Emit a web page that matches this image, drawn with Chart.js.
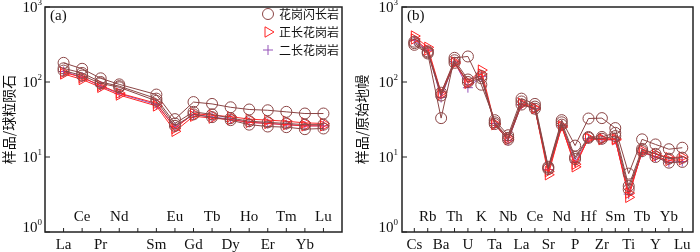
<!DOCTYPE html>
<html>
<head>
<meta charset="utf-8">
<script src="https://cdn.jsdelivr.net/npm/chart.js@4"></script>
<style>
  body { margin: 0; background: #fff; }
  #wrap { position: relative; width: 700px; height: 252px; }
  canvas { position: absolute; top: 0; }
</style>
</head>
<body>
<div id="wrap">
  <canvas id="reeChart" width="350" height="252" style="left:0"></canvas>
  <canvas id="spiderChart" width="350" height="252" style="left:350px"></canvas>
</div>
<script>
// (a) chondrite-normalised REE, Pm slot has no label and no data
const reeLabels = ["La", "Ce", "Pr", "Nd", "", "Sm", "Eu", "Gd", "Tb", "Dy", "Ho", "Er", "Tm", "Yb", "Lu"];
const granodioriteREE1 = [180, 150, 112, 93, null, 68, 32, 54, 51, 46, 43, 42, 40, 38, 38];
const granodioriteREE2 = [152, 132, 100, 88, null, 60, 28, 40, 37, 33, 30, 29, 28, 27, 27];
const granodioriteREE3 = [142, 122, 96, 85, null, 56, 26, 37, 34, 31, 27, 25.5, 25, 23.5, 24];
const syenograniteREE1 = [135, 115, 90, 71, null, 52, 24, 38, 36, 34.5, 32, 31, 30, 28.5, 28];
const syenograniteREE2 = [128, 108, 85, 67, null, 48, 22, 35, 33, 31.5, 29, 28, 27, 26, 26];
const monzograniteREE1 = [138, 116, 88, 70, null, 50, 25, 37, 34, 32, 29, 28, 27, 26, 26];

// (b) primitive-mantle-normalised trace elements
const spiderLabels = ["Cs", "Rb", "Ba", "Th", "U", "K", "Ta", "Nb", "La", "Ce", "Sr", "Nd", "P", "Hf", "Zr", "Sm", "Ti", "Tb", "Y", "Yb", "Lu"];
const granodioriteSpider1 = [313, 240, 33, 210, 219, 92, 31, 19.5, 60, 51, 7.4, 31, 14.2, 32.6, 33, 24.3, 6, 17.2, 14.7, 12.7, 13.3];
const granodioriteSpider2 = [345, 256, 72, 195, 108, 120, 29, 18, 55, 47, 7.2, 29, 10, 18.5, 18.5, 21, 4.1, 12.8, 11, 9.5, 9.8];
const granodioriteSpider3 = [330, 248, 66, 180, 100, 112, 27.5, 17, 50, 44, 6.9, 27, 9.4, 18, 17.5, 19, 3.7, 12, 10, 8.4, 8.6];
const syenograniteSpider1 = [410, 290, 72, 185, 100, 144, 28, 18, 52, 45, 5.8, 26, 7.4, 18, 17.5, 17.5, 2.9, 12.3, 11, 9.8, 10];
const syenograniteSpider2 = [375, 268, 68, 178, 96, 128, 27, 17, 50, 44, 6.4, 25, 8, 17.5, 17, 17, 3.3, 11.5, 10.2, 9, 9.2];
const monzograniteSpider1 = [360, 262, 62, 185, 84, 118, 28, 16.5, 50, 44, 6.8, 26, 8.5, 17.5, 17, 17, 3.2, 11.5, 10, 8.5, 8.7];

const yTicks = [1, 10, 100, 1000];
const rockNames = ["花岗闪长岩", "正长花岗岩", "二长花岗岩"];

const rockStyles = [
  { color: "#8b4545", pointStyle: "circle", pointRadius: 5.5, pointRotation: 0 },
  { color: "#ff2424", pointStyle: "triangle", pointRadius: 6, pointRotation: 90 },
  { color: "#9552b8", pointStyle: "cross", pointRadius: 5, pointRotation: 0 }
];

function series(values, rock) {
  const s = rockStyles[rock];
  return {
    label: rockNames[rock],
    data: values.map((v, i) => ({ x: i, y: v })),
    borderColor: s.color,
    borderWidth: 1,
    pointStyle: s.pointStyle,
    pointRadius: s.pointRadius,
    pointRotation: s.pointRotation,
    pointBorderColor: s.color,
    pointBorderWidth: 1,
    pointBackgroundColor: "rgba(0,0,0,0)",
    spanGaps: true,
    tension: 0
  };
}

function drawMarker(ctx, rock, x, y) {
  const s = rockStyles[rock];
  const r = s.pointRadius;
  ctx.strokeStyle = s.color;
  ctx.lineWidth = 1;
  ctx.beginPath();
  if (s.pointStyle === "circle") {
    ctx.arc(x, y, r, 0, Math.PI * 2);
  } else if (s.pointStyle === "triangle") {
    ctx.moveTo(x + r, y);
    ctx.lineTo(x - r / 2, y - r * 0.866);
    ctx.lineTo(x - r / 2, y + r * 0.866);
    ctx.closePath();
  } else {
    ctx.moveTo(x - r, y); ctx.lineTo(x + r, y);
    ctx.moveTo(x, y - r); ctx.lineTo(x, y + r);
  }
  ctx.stroke();
}

// frame, inward ticks, alternating element labels, axis title, tag, legend
const decorPlugin = {
  id: "decor",
  afterDraw(chart, args, opts) {
    const { ctx, chartArea: a, scales: { x, y } } = chart;
    ctx.save();
    ctx.strokeStyle = "#222";
    ctx.lineWidth = 1.5;
    ctx.strokeRect(a.left, a.top, a.right - a.left, a.bottom - a.top);

    ctx.lineWidth = 1;
    ctx.fillStyle = "#111";
    ctx.font = '15px "Liberation Serif"';
    ctx.textAlign = "center";
    ctx.textBaseline = "middle";
    let k = 0;
    opts.labels.forEach((lab, i) => {
      const px = x.getPixelForValue(i);
      ctx.beginPath();
      ctx.moveTo(px, a.bottom);
      ctx.lineTo(px, a.bottom - 4);
      ctx.stroke();
      if (!lab) return;
      ctx.fillText(lab, px, k % 2 ? a.bottom - 15 : a.bottom + 13);
      k++;
    });

    yTicks.forEach((t, i) => {
      const py = y.getPixelForValue(t);
      ctx.beginPath();
      ctx.moveTo(a.left, py);
      ctx.lineTo(a.left + 5, py);
      ctx.stroke();
      const cy = Math.min(Math.max(py + 1, 8), a.bottom - 4);
      const exp = String(Math.log10(t));
      ctx.textAlign = "right";
      ctx.font = '9px "Liberation Serif"';
      const ew = ctx.measureText(exp).width;
      ctx.fillText(exp, opts.tickRight, cy - 5);
      ctx.font = '15px "Liberation Serif"';
      ctx.fillText("10", opts.tickRight - ew, cy);
    });

    ctx.save();
    ctx.translate(opts.titleX, (a.top + a.bottom) / 2);
    ctx.rotate(-Math.PI / 2);
    ctx.textAlign = "center";
    ctx.font = '14px "Noto Sans CJK SC"';
    ctx.fillText(opts.title, 0, 0);
    ctx.restore();

    ctx.textAlign = "left";
    ctx.font = '15px "Liberation Serif"';
    ctx.fillText(opts.tag, a.left + 5, 16);

    if (opts.legend) {
      ctx.font = '12px "Noto Sans CJK SC"';
      rockNames.forEach((name, r) => {
        const ly = opts.legend.y + r * 18;
        drawMarker(ctx, r, opts.legend.x, ly);
        ctx.fillStyle = "#111";
        ctx.fillText(name, opts.legend.x + 11, ly);
      });
    }
    ctx.restore();
  }
};

function makeOptions(xMin, xMax, axisWidth, rightPad, decor) {
  return {
    responsive: false,
    animation: false,
    layout: { padding: { top: 1, right: rightPad, bottom: 0, left: 0 } },
    plugins: {
      legend: { display: false },
      tooltip: { enabled: false },
      decor: decor
    },
    scales: {
      x: {
        type: "linear",
        min: xMin,
        max: xMax,
        grid: { display: false },
        border: { display: false },
        ticks: { display: false },
        afterFit: function (scale) { scale.height = 20; }
      },
      y: {
        type: "logarithmic",
        min: 1,
        max: 1000,
        grid: { display: false },
        border: { display: false },
        ticks: { display: false },
        afterFit: function (scale) { scale.width = axisWidth; }
      }
    }
  };
}

new Chart(document.getElementById("reeChart").getContext("2d"), {
  type: "line",
  data: {
    datasets: [
      series(granodioriteREE1, 0),
      series(granodioriteREE2, 0),
      series(granodioriteREE3, 0),
      series(syenograniteREE1, 1),
      series(syenograniteREE2, 1),
      series(monzograniteREE1, 2)
    ]
  },
  options: makeOptions(-1, 15, 45, 8, {
    labels: reeLabels,
    title: "样品/球粒陨石",
    titleX: 9,
    tickRight: 42,
    tag: "(a)",
    legend: { x: 268, y: 14 }
  }),
  plugins: [decorPlugin]
});

new Chart(document.getElementById("spiderChart").getContext("2d"), {
  type: "line",
  data: {
    datasets: [
      series(granodioriteSpider1, 0),
      series(granodioriteSpider2, 0),
      series(granodioriteSpider3, 0),
      series(syenograniteSpider1, 1),
      series(syenograniteSpider2, 1),
      series(monzograniteSpider1, 2)
    ]
  },
  options: makeOptions(-0.92, 20.8, 52, 3, {
    labels: spiderLabels,
    title: "样品/原始地幔",
    titleX: 12,
    tickRight: 48,
    tag: "(b)",
    legend: null
  }),
  plugins: [decorPlugin]
});
</script>
</body>
</html>
